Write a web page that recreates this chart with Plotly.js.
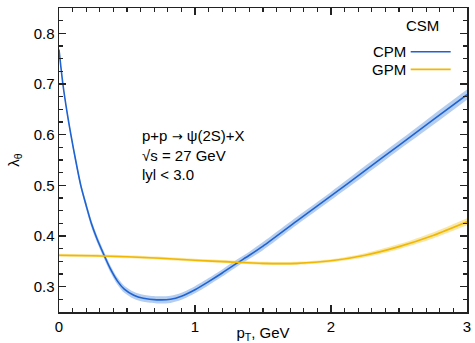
<!DOCTYPE html>
<html><head><meta charset="utf-8">
<script src="https://cdn.plot.ly/plotly-3.0.1.min.js"></script>
<style>html,body{margin:0;padding:0;background:#fff}#c{width:475px;height:343px}</style>
</head><body><div id="c"></div>
<script>
const cpmX = [0,0.03,0.06,0.09,0.12,0.16,0.20,0.24,0.28,0.33,0.38,0.43,0.48,0.55,0.62,0.72,0.82,0.9,1.0,1.1,1.2,1.3,1.4,1.5,1.75,2.0,2.25,2.5,2.75,3.0];
const cpmY = [0.768,0.697,0.643,0.596,0.553,0.500,0.460,0.423,0.394,0.363,0.334,0.311,0.295,0.283,0.277,0.274,0.275,0.281,0.294,0.310,0.327,0.345,0.362,0.380,0.430,0.479,0.529,0.579,0.629,0.679];
const cpmErr = [0.002,0.003,0.004,0.005,0.006,0.006,0.007,0.007,0.007,0.007,0.007,0.007,0.007,0.007,0.007,0.007,0.007,0.007,0.007,0.007,0.007,0.007,0.007,0.008,0.008,0.008,0.009,0.009,0.010,0.010];
const gpmX = [0,0.25,0.5,0.75,1.0,1.25,1.5,1.75,2.0,2.25,2.5,2.75,3.0];
const gpmY = [0.362,0.361,0.359,0.356,0.352,0.349,0.346,0.346,0.351,0.362,0.379,0.401,0.428];
const gpmErr = [0.003,0.003,0.003,0.003,0.003,0.003,0.003,0.003,0.003,0.004,0.005,0.006,0.007];

const blue='#1f63d2', blueBand='rgba(120,165,225,0.55)';
const yel='#f0b800', yelBand='rgba(245,215,110,0.6)';
function band(x,y,e,col){
  return [
    {x:x,y:y.map((v,i)=>v-e[i]),mode:'lines',line:{width:0,shape:'spline',smoothing:0.8},hoverinfo:'skip',showlegend:false},
    {x:x,y:y.map((v,i)=>v+e[i]),mode:'lines',line:{width:0,shape:'spline',smoothing:0.8},fill:'tonexty',fillcolor:col,hoverinfo:'skip',showlegend:false}
  ];
}
const data = [
  ...band(cpmX,cpmY,cpmErr,blueBand),
  ...band(gpmX,gpmY,gpmErr,yelBand),
  {x:cpmX,y:cpmY,mode:'lines',line:{color:blue,width:1.6,shape:'spline',smoothing:0.8},name:'CPM',showlegend:false},
  {x:gpmX,y:gpmY,mode:'lines',line:{color:yel,width:1.6,shape:'spline',smoothing:0.8},name:'GPM',showlegend:false}
];
const fnt={family:'Liberation Sans, Arial, sans-serif',size:15,color:'#000'};
const ax={showgrid:false,zeroline:false,showline:true,linecolor:'#222',linewidth:1.5,mirror:'ticks',ticks:'inside',ticklen:7,tickwidth:1.3,tickcolor:'#222',tickfont:fnt};
const layout={
  width:475,height:343,margin:{l:59,r:8,t:8,b:31},paper_bgcolor:'#fff',plot_bgcolor:'#fff',
  font:fnt,
  xaxis:Object.assign({},ax,{range:[0,3],dtick:1,title:{text:'p<sub>T</sub>, GeV',font:fnt,standoff:1},
    minor:{dtick:0.1,ticks:'inside',ticklen:4,tickwidth:1.1,tickcolor:'#222'}}),
  yaxis:Object.assign({},ax,{range:[0.25,0.85],dtick:0.1,tickformat:'.1f',title:{text:'λ<sub>θ</sub>',font:fnt,standoff:10},
    minor:{dtick:0.025,ticks:'inside',ticklen:4,tickwidth:1.1,tickcolor:'#222'}}),
  annotations:[
    {xref:'paper',yref:'paper',x:0.199,y:0.515,xanchor:'left',yanchor:'middle',showarrow:false,align:'left',font:fnt,
     text:'p+p <span style="font-family:DejaVu Sans;font-size:13px">→</span> ψ(2S)+X<br>√s = 27 GeV<br>lyl < 3.0'},
    {xref:'paper',yref:'paper',x:0.891,y:0.944,xanchor:'center',yanchor:'middle',showarrow:false,font:fnt,text:'CSM'},
    {xref:'paper',yref:'paper',x:0.856,y:0.856,xanchor:'right',yanchor:'middle',showarrow:false,font:fnt,text:'CPM'},
    {xref:'paper',yref:'paper',x:0.856,y:0.798,xanchor:'right',yanchor:'middle',showarrow:false,font:fnt,text:'GPM'}
  ],
  shapes:[
    {type:'line',xref:'paper',yref:'paper',x0:0.862,x1:0.96,y0:0.856,y1:0.856,line:{color:blue,width:1.6}},
    {type:'line',xref:'paper',yref:'paper',x0:0.862,x1:0.96,y0:0.798,y1:0.798,line:{color:yel,width:1.6}}
  ]
};
Plotly.newPlot('c',data,layout,{displayModeBar:false,staticPlot:true});
</script></body></html>
